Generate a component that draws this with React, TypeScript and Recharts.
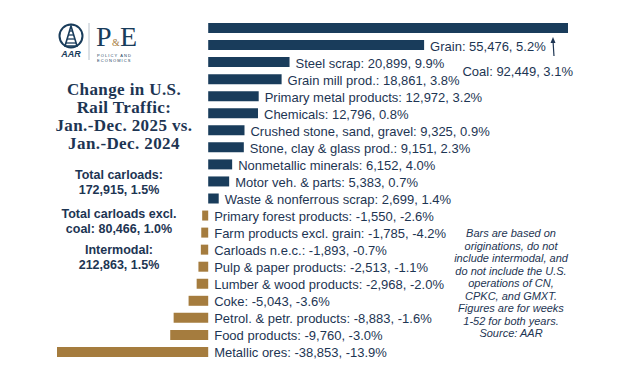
import { BarChart, Bar, XAxis, YAxis, Cell, LabelList } from "recharts";

// Commodity groups, sorted by change in carloads (Jan.-Dec. 2025 vs 2024)
const CATEGORIES = [
  "Coal", "Grain", "Steel scrap", "Grain mill prod.", "Primary metal products",
  "Chemicals", "Crushed stone, sand, gravel", "Stone, clay & glass prod.",
  "Nonmetallic minerals", "Motor veh. & parts", "Waste & nonferrous scrap",
  "Primary forest products", "Farm products excl. grain", "Carloads n.e.c.",
  "Pulp & paper products", "Lumber & wood products", "Coke",
  "Petrol. & petr. products", "Food products", "Metallic ores",
];
const CARLOAD_CHANGE = [
  92449, 55476, 20899, 18861, 12972, 12796, 9325, 9151, 6152, 5383, 2699,
  -1550, -1785, -1893, -2513, -2968, -5043, -8883, -9760, -38853,
];
const PCT_CHANGE = [
  3.1, 5.2, 9.9, 3.8, 3.2, 0.8, 0.9, 2.3, 4.0, 0.7, 1.4,
  -2.6, -4.2, -0.7, -1.1, -2.0, -3.6, -1.6, -3.0, -13.9,
];

const NOTE_LINES = [
  "Bars are based on", "originations, do not", "include intermodal, and",
  "do not include the U.S.", "operations of CN,", "CPKC, and GMXT.",
  "Figures are for weeks", "1-52 for both years.", "Source: AAR",
];

const NAVY = "#193c5b";
const GOLD = "#a57c3e";
const INK = "#1d3553";
const SANS = "'Liberation Sans', Arial, sans-serif";
const SERIF = "'Liberation Serif', 'Times New Roman', serif";

const data = CATEGORIES.map((name, i) => ({
  name,
  value: CARLOAD_CHANGE[i],
  pct: PCT_CHANGE[i],
}));

const fmtLabel = (i: number) =>
  `${CATEGORIES[i]}: ${CARLOAD_CHANGE[i].toLocaleString("en-US")}, ${PCT_CHANGE[i].toFixed(1)}%`;

function BarLabel(props: any) {
  const { x, y, width, height, index } = props;
  const end = Math.max(x, x + width);
  const cy = y + height / 2 + 1;
  if (index === 0) {
    // coal label sits under the bar with an arrow pointing up to it
    const ax = end - 14;
    const top = y + height + 4;
    return (
      <g>
        <line x1={ax} y1={top + 19} x2={ax - 1} y2={top + 4} stroke={INK} strokeWidth={1.2} />
        <path d={`M${ax - 1},${top} L${ax - 3.5},${top + 6} L${ax + 1.5},${top + 6} Z`} fill={INK} />
        <text x={end + 5} y={cy + 42} textAnchor="end" dominantBaseline="central"
          fontFamily={SANS} fontSize={13} fill={INK}>
          {fmtLabel(index)}
        </text>
      </g>
    );
  }
  return (
    <text x={end + 6} y={cy} dominantBaseline="central" fontFamily={SANS} fontSize={13} fill={INK}>
      {fmtLabel(index)}
    </text>
  );
}

function Logo() {
  return (
    <svg width={90} height={52} style={{ position: "absolute", left: 55, top: 15 }}>
      <circle cx={16} cy={21} r={11.5} fill="none" stroke={NAVY} strokeWidth={2} />
      <path d="M16,11 L10,31 L22,31 Z" fill="none" stroke={NAVY} strokeWidth={1.6} />
      {[16, 20, 24, 28].map(yy => (
        <line key={yy} x1={16 - (yy - 11) * 0.3} x2={16 + (yy - 11) * 0.3} y1={yy} y2={yy} stroke={NAVY} strokeWidth={1.3} />
      ))}
      <text x={16} y={42} textAnchor="middle" fontFamily={SANS} fontStyle="italic" fontWeight="bold"
        fontSize={9} fill={NAVY}>AAR</text>
      <line x1={34} y1={8} x2={34} y2={45} stroke="#b8c2cc" strokeWidth={1} />
      <text x={41} y={31} fontFamily={SERIF} fontSize={28} fill={NAVY}>P</text>
      <text x={57} y={31} fontFamily={SERIF} fontSize={10} fill={GOLD}>&amp;</text>
      <text x={65} y={31} fontFamily={SERIF} fontSize={28} fill={NAVY}>E</text>
      <text x={42} y={42} fontFamily={SANS} fontSize={4} letterSpacing={1.1} fill={NAVY}>POLICY AND</text>
      <text x={42} y={46.5} fontFamily={SANS} fontSize={4} letterSpacing={1.1} fill={NAVY}>ECONOMICS</text>
    </svg>
  );
}

const statStyle: React.CSSProperties = {
  position: "absolute", left: 49, width: 140, textAlign: "center",
  fontFamily: SANS, fontWeight: "bold", fontSize: 12.5, lineHeight: "14.5px", color: INK,
};

export default function App() {
  return (
    <div style={{ position: "absolute", left: 0, top: 0, width: 624, height: 380, background: "#fff", overflow: "hidden" }}>
      <BarChart
        width={624}
        height={380}
        data={data}
        layout="vertical"
        barSize={10}
        margin={{ top: 19, right: 56, left: 57, bottom: 20 }}
      >
        <XAxis type="number" domain={[-38853, 92449]} hide />
        <YAxis type="category" dataKey="name" hide width={0} />
        <Bar dataKey="value" isAnimationActive={false}>
          {data.map((d, i) => (
            <Cell key={i} fill={d.value >= 0 ? NAVY : GOLD} />
          ))}
          <LabelList dataKey="value" content={<BarLabel />} />
        </Bar>
      </BarChart>

      <Logo />

      <div style={{
        position: "absolute", left: 34, top: 81, width: 180, textAlign: "center",
        fontFamily: SERIF, fontWeight: "bold", fontSize: 17, lineHeight: "18px",
        letterSpacing: 0.4, color: INK,
      }}>
        Change in U.S.<br />Rail Traffic:<br />Jan.-Dec. 2025 vs.<br />Jan.-Dec. 2024
      </div>

      <div style={{ ...statStyle, top: 168 }}>Total carloads:<br />172,915, 1.5%</div>
      <div style={{ ...statStyle, top: 207 }}>Total carloads excl.<br />coal: 80,466, 1.0%</div>
      <div style={{ ...statStyle, top: 243 }}>Intermodal:<br />212,863, 1.5%</div>

      <div style={{
        position: "absolute", left: 440, top: 227, width: 142, textAlign: "center",
        fontFamily: SANS, fontStyle: "italic", fontSize: 11, lineHeight: "12.5px", color: INK,
      }}>
        {NOTE_LINES.map(l => <div key={l}>{l}</div>)}
      </div>
    </div>
  );
}
